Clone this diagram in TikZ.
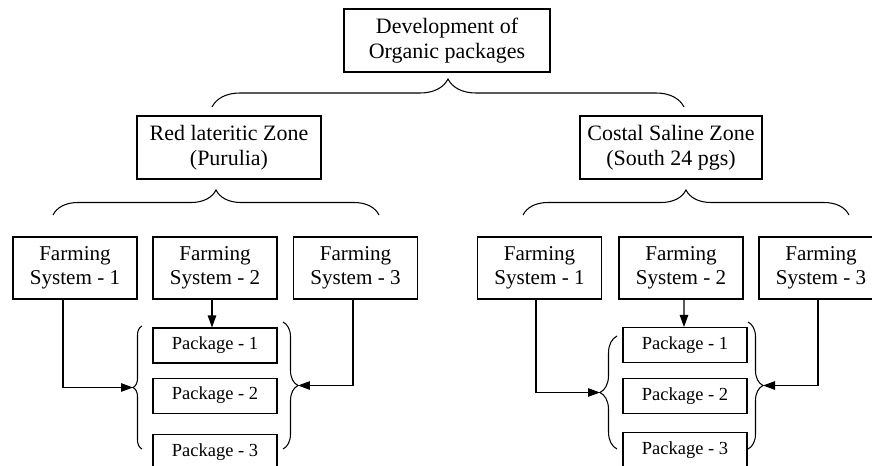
\documentclass[tikz,border=0pt]{standalone}
\usepackage{fontspec}
\setmainfont{Liberation Serif}
\usetikzlibrary{positioning,arrows.meta,decorations.pathreplacing}

\begin{document}
\begin{tikzpicture}[x=0.02cm,y=-0.02cm,line width=0.6pt,
        box/.style={draw,align=center,inner sep=0pt},
        bigbox/.style={box,minimum height=1.26cm,font=\fontsize{12.5}{14.5}\selectfont},
        fsbox/.style={box,minimum width=2.48cm,minimum height=1.24cm,font=\fontsize{12}{13.5}\selectfont},
        pkgbox/.style={box,minimum width=2.48cm,minimum height=0.7cm,font=\fontsize{10.5}{12}\selectfont},
        brc/.style={decorate,decoration={brace,amplitude=#1}},
        arr/.style={-{Triangle[length=2.4mm,width=1.7mm]}}]

        \clip (0,0) rectangle (872,466);
        \fill[white] (0,0) rectangle (872,466);

        % Top
        \node[bigbox,minimum width=4.12cm] (top) at (447,40.5) {Development of\\Organic packages};
        \draw[brc=0.56cm] (212,107) -- (684,107);

        % Zones
        \node[bigbox,minimum width=3.68cm] (zoneA) at (229,147.5) {Red lateritic Zone\\(Purulia)};
        \node[bigbox,minimum width=3.64cm] (zoneB) at (671,147.5) {Costal Saline Zone\\(South 24 pgs)};
        \draw[brc=0.5cm] (53,215) -- (379,215);
        \draw[brc=0.5cm] (523,215) -- (849,215);

        % Farming systems, left
        \node[fsbox] (fsA1) at (75,268) {Farming\\System - 1};
        \node[fsbox] (fsA2) at (215,268) {Farming\\System - 2};
        \node[fsbox] (fsA3) at (355.5,268) {Farming\\System - 3};
        % Farming systems, right
        \node[fsbox] (fsB1) at (539.5,268) {Farming\\System - 1};
        \node[fsbox] (fsB2) at (681,268) {Farming\\System - 2};
        \node[fsbox] (fsB3) at (821,268) {Farming\\System - 3};

        % Packages, left
        \node[pkgbox] (pkgA1) at (215,345.5) {Package - 1};
        \node[pkgbox,below=0.28cm of pkgA1] (pkgA2) {Package - 2};
        \node[pkgbox,below=0.4cm of pkgA2] (pkgA3) {Package - 3};
        \draw[brc=0.18cm] (142,449) -- (142,326) coordinate[midway,xshift=-0.18cm](tipA1);
        \draw[brc=0.3cm] (283,322) -- (283,449) coordinate[midway,xshift=0.3cm](tipA2);
        % Packages, right
        \node[pkgbox] (pkgB1) at (685,345) {Package - 1};
        \node[pkgbox,below=0.3cm of pkgB1] (pkgB2) {Package - 2};
        \node[pkgbox,below=0.36cm of pkgB2] (pkgB3) {Package - 3};
        \draw[brc=0.34cm] (617,449) -- (617,336) coordinate[midway,xshift=-0.34cm](tipB1);
        \draw[brc=0.3cm] (748,322) -- (748,449) coordinate[midway,xshift=0.3cm](tipB2);

        % Arrows
        \draw[arr] ([xshift=-0.24cm]fsA1.south) |- (tipA1);
        \draw[arr] ([xshift=-0.06cm]fsA2.south) -- ([xshift=-0.06cm]pkgA1.north);
        \draw[arr] ([xshift=-0.05cm]fsA3.south) |- (tipA2);
        \draw[arr] ([xshift=-0.07cm]fsB1.south) |- (tipB1);
        \draw[arr] ([xshift=0.06cm]fsB2.south) -- ([xshift=-0.02cm]pkgB1.north);
        \draw[arr] ([xshift=-0.06cm]fsB3.south) |- (tipB2);

    \end{tikzpicture}
\end{document}
